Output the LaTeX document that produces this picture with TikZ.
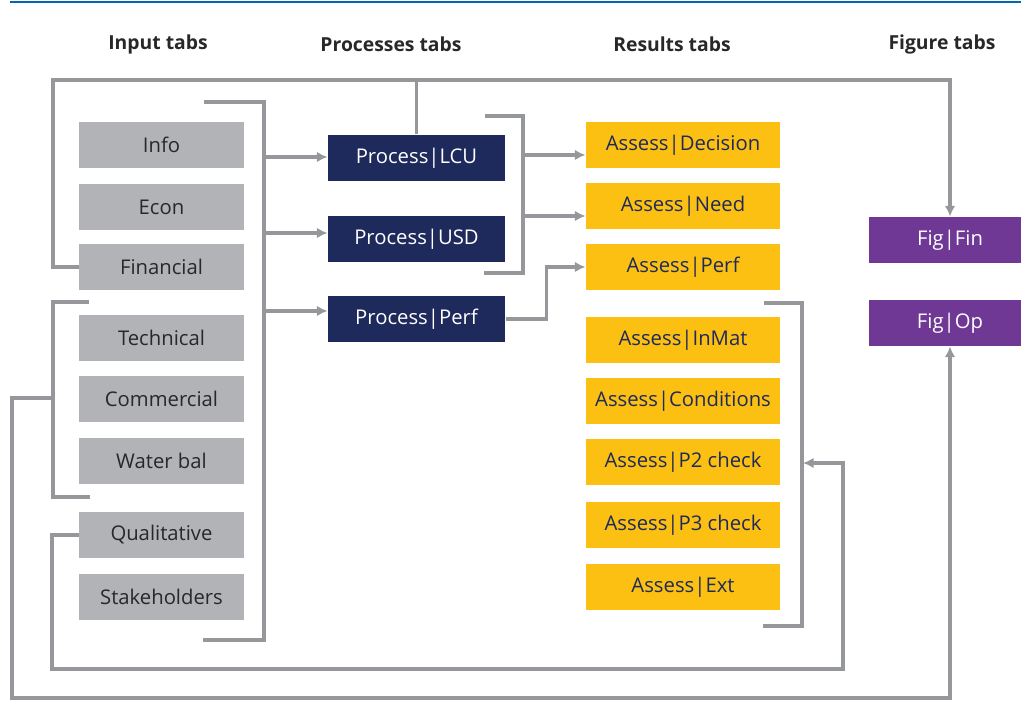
\documentclass[tikz,border=0pt]{standalone}
\usepackage{fontspec}
\setmainfont{Open Sans}
\usetikzlibrary{arrows.meta}
\tikzset{every picture/.style={line width=0.75pt}}

\definecolor{inpgray}{RGB}{177,179,182}
\definecolor{procnavy}{RGB}{31,42,92}
\definecolor{resyellow}{RGB}{251,192,18}
\definecolor{figpurple}{RGB}{110,56,148}
\definecolor{wiregray}{RGB}{150,151,155}
\definecolor{ruleblue}{RGB}{0,104,178}
\definecolor{txtdark}{RGB}{40,40,40}

\tikzset{
  tabbox/.style={inner sep=0pt, minimum height=34.5pt, font=\fontsize{15.2}{17}\selectfont},
  intab/.style={tabbox, fill=inpgray, text=txtdark, minimum width=123.75pt},
  proctab/.style={tabbox, fill=procnavy, text=white, minimum width=132.75pt},
  restab/.style={tabbox, fill=resyellow, text=procnavy, minimum width=145.5pt},
  figtab/.style={tabbox, fill=figpurple, text=white, minimum width=121.5pt},
  heading/.style={font=\fontsize{14.5}{16}\selectfont\bfseries, text=txtdark},
  wire/.style={draw=wiregray, line width=2.5pt},
  arrow/.style={wire, -{Latex[length=8pt,width=8pt]}}
}

\begin{document}
\begin{tikzpicture}[x=0.75pt,y=0.75pt,yscale=-1,xscale=1]
\useasboundingbox (0,0) rectangle (1021,723);
\clip (0,0) rectangle (1021,723);

%Straight Lines: top rule
\draw [ruleblue, line width=1.2pt] (10,2) -- (1021,2) ;

% Text Node
\node [heading] (hin) at (158,44) {Input tabs};
% Text Node
\node [heading] (hproc) at (391,44) {Processes tabs};
% Text Node
\node [heading] (hres) at (672,44) {Results tabs};
% Text Node
\node [heading] (hfig) at (942,44) {Figure tabs};

% Input tabs
\node [intab] (info) at (161.5,145) {Info};
\node [intab] (econ) at (161.5,207) {Econ};
\node [intab] (fin) at (161.5,267) {Financial};
\node [intab] (tech) at (161.5,338) {Technical};
\node [intab] (comm) at (161.5,399) {Commercial};
\node [intab] (water) at (161.5,461) {Water bal};
\node [intab] (qual) at (161.5,535) {Qualitative};
\node [intab] (stake) at (161.5,597) {Stakeholders};

% Processes tabs
\node [proctab] (lcu) at (416.5,158) {Process|LCU};
\node [proctab] (usd) at (416.5,239) {Process|USD};
\node [proctab] (pperf) at (416.5,319) {Process|Perf};

% Results tabs
\node [restab] (decision) at (683,145) {Assess|Decision};
\node [restab] (need) at (683,206) {Assess|Need};
\node [restab] (aperf) at (683,267) {Assess|Perf};
\node [restab] (inmat) at (683,340) {Assess|InMat};
\node [restab] (cond) at (683,401) {Assess|Conditions};
\node [restab] (ptwo) at (683,462) {Assess|P2 check};
\node [restab] (pthree) at (683,525) {Assess|P3 check};
\node [restab] (ext) at (683,587) {Assess|Ext};

% Figure tabs
\node [figtab] (figfin) at (950,240) {Fig|Fin};
\node [figtab] (figop) at (950,323) {Fig|Op};

% Bracket coordinates
\coordinate (topline) at (53,80);
\coordinate (ib1) at (264,157);
\coordinate (ib2) at (264,233);
\coordinate (ib3) at (264,311);
\coordinate (rb1) at (523,155);
\coordinate (rb2) at (523,216);
\coordinate (rb3) at (803,463);

%Bracket: input tabs
\draw [wire] (204,102) -- (264,102) -- (264,640) -- (203,640) ;
\draw [arrow] (ib1) -- (ib1 -| lcu.west) ;
\draw [arrow] (ib2) -- (ib2 -| usd.west) ;
\draw [arrow] (ib3) -- (ib3 -| pperf.west) ;

%Bracket: process tabs
\draw [wire] (485,116) -- (523,116) -- (523,273) -- (484,273) ;
\draw [arrow] (rb1) -- (rb1 -| decision.west) ;
\draw [arrow] (rb2) -- (rb2 -| need.west) ;
\draw [arrow] (pperf.east) -- ++(41,0) |- (aperf.west) ;

%Bracket: lower results tabs
\draw [wire] (764,303) -- (802,303) -- (802,626) -- (763,626) ;

%Loop: financial to Fig|Fin
\draw [arrow] (fin.west) -| (topline) -| (figfin.north) ;
\draw [wire] (lcu.north) -- (lcu.north |- topline) ;

%Loop: technical group to Fig|Op
\draw [wire] (89,302) -- (53,302) -- (53,497) -- (90,497) ;
\draw [arrow] (53,398) -| (12,698) -| (figop.south) ;

%Loop: qualitative to results
\draw [arrow] (qual.west) -| (52,669) -| (843,463) -- (rb3) ;
\end{tikzpicture}
\end{document}
